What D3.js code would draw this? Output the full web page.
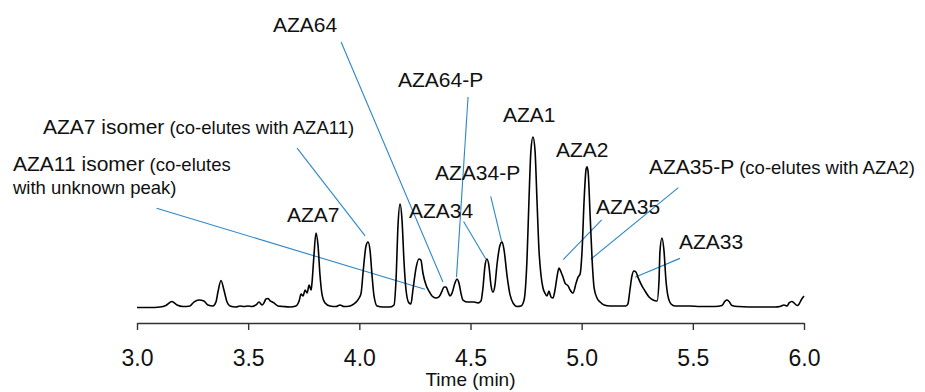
<!DOCTYPE html>
<html>
<head>
<meta charset="utf-8">
<script src="https://cdn.jsdelivr.net/npm/d3@7"></script>
<style>
  html, body { margin: 0; padding: 0; background: #fff; }
  svg { display: block; }
  text { font-family: "Liberation Sans", Arial, Helvetica, sans-serif; fill: #111; }
</style>
</head>
<body>
<svg id="chart" width="925" height="392"></svg>
<script>
// ---- data ----
const times = [3.000,3.058,3.103,3.130,3.157,3.180,3.207,3.238,3.256,3.279,3.301,3.319,3.342,3.355,3.364,3.378,3.391,3.405,3.418,3.445,
  3.463,3.481,3.499,3.517,3.535,3.549,3.562,3.571,3.580,3.589,3.598,3.616,3.634,3.657,3.688,3.715,3.729,3.738,3.747,3.756,
  3.765,3.774,3.783,3.787,3.796,3.805,3.814,3.823,3.832,3.846,3.868,3.895,3.913,3.931,3.958,3.976,3.990,3.999,4.008,4.017,
  4.030,4.039,4.048,4.057,4.066,4.080,4.107,4.138,4.156,4.165,4.174,4.183,4.192,4.201,4.210,4.223,4.232,4.241,4.255,4.268,
  4.277,4.286,4.300,4.313,4.327,4.345,4.358,4.372,4.381,4.390,4.399,4.408,4.417,4.430,4.439,4.448,4.457,4.466,4.489,4.516,
  4.534,4.547,4.556,4.565,4.574,4.583,4.592,4.601,4.610,4.619,4.633,4.642,4.651,4.664,4.678,4.691,4.709,4.727,4.741,4.754,
  4.763,4.772,4.781,4.790,4.799,4.808,4.817,4.826,4.835,4.844,4.853,4.862,4.871,4.880,4.889,4.898,4.907,4.916,4.925,4.939,
  4.948,4.961,4.975,4.984,4.993,5.002,5.011,5.020,5.024,5.029,5.038,5.047,5.056,5.069,5.083,5.101,5.128,5.172,5.199,5.208,
  5.217,5.226,5.235,5.244,5.253,5.267,5.285,5.303,5.321,5.339,5.348,5.352,5.361,5.370,5.379,5.388,5.402,5.420,5.487,5.532,
  5.600,5.631,5.645,5.654,5.663,5.676,5.703,5.802,5.870,5.892,5.910,5.924,5.933,5.946,5.955,5.969,5.978,5.987,6.000];
const intensity = [-0.3,-0.3,0,0.9,3.2,1.2,0.3,0.6,2.9,4.1,3.5,1.2,0.6,2.9,8.8,15.6,10.0,2.9,0.6,0,
  0.6,0.3,0.6,0.3,1.2,2.9,1.2,2.4,4.7,5.0,3.8,2.4,0.6,0.3,0,0.6,3.5,7.6,6.5,10.0,
  8.2,12.9,10.0,14.1,30.6,43.5,36.5,18.8,7.6,2.4,0.6,0.3,1.2,0.3,0.6,1.8,3.5,5.3,8.2,20.6,
  35.9,38.2,33.5,18.8,6.5,0.6,0,0,1.2,15.9,48.2,60.6,51.2,26.5,10.0,2.4,1.8,10.0,22.9,28.2,
  27.6,20.0,12.9,9.4,6.5,5.3,5.9,9.4,11.8,11.8,8.8,6.5,8.2,14.1,16.5,14.1,8.2,4.1,2.9,2.9,
  2.4,3.5,11.2,24.1,28.2,24.1,12.9,8.8,12.9,24.7,36.5,38.2,33.5,18.8,7.1,2.4,0.3,0.6,4.1,27.6,
  62.9,92.4,100.0,92.4,62.9,33.5,18.8,11.2,8.2,6.5,9.4,5.9,5.3,10.0,17.6,22.9,20.6,17.6,14.1,12.4,
  10.0,8.2,14.1,17.6,19.4,33.5,62.9,81.2,82.4,79.4,54.1,27.6,11.2,5.3,2.9,1.2,0.6,0.6,0.6,1.8,
  10.0,18.2,21.2,20.6,17.6,13.5,9.4,5.9,4.1,3.5,15.9,32.4,40.6,33.5,15.9,6.5,1.8,0.6,0.6,0.3,
  0.3,0.9,3.5,4.1,3.2,0.9,0.3,0,0,0.3,1.2,0.6,2.4,3.2,2.4,0.9,1.8,4.1,6.5];

const xTicks = [3.0, 3.5, 4.0, 4.5, 5.0, 5.5, 6.0];
const xTitle = "Time (min)";

// annotation texts: [main, small]
const annoMain  = ["AZA64", "AZA64-P", "AZA7 isomer", "AZA11 isomer", "AZA34", "AZA34-P", "AZA35", "AZA35-P", "AZA33", "AZA1", "AZA2", "AZA7"];
const annoSmall = ["", "", "(co-elutes with AZA11)", "(co-elutes", "", "", "", "(co-elutes with AZA2)", "", "", "", ""];
const annoSmall2 = ["", "", "", "with unknown peak)", "", "", "", "", "", "", "", ""];
// leader lines: from label (time, intensity) to peak (time, intensity)
const leaderFromT = [3.918, 4.489, 3.720, 3.088, 4.469, 4.591, 5.090, 5.435, 5.442];
const leaderFromI = [155.9, 123.5, 93.5, 58.1, 50.3, 65.1, 51.2, 70.2, 28.6];
const leaderToT   = [4.376, 4.437, 4.026, 4.295, 4.569, 4.640, 4.917, 5.041, 5.240];
const leaderToI   = [14.7, 17.6, 41.8, 10.4, 28.2, 38.4, 27.9, 28.1, 17.5];

// ---- layout ----
const svg = d3.select("#chart");
const x = d3.scaleLinear().domain([3, 6]).range([137, 804]);
const y = d3.scaleLinear().domain([0, 100]).range([307, 137]);
const axisY = 323;

// label anchor positions (pixels)
const labelPos = [
  [273, 32], [398, 87], [43, 134], [13, 171], [409, 218], [435, 180],
  [596, 214], [649, 174], [679, 249], [503, 122], [556, 157], [287, 222]
];

// leader lines
const leaderColor = "#2b87c8";
svg.append("g").selectAll("line").data(leaderFromT).join("line")
  .attr("x1", (d, i) => x(leaderFromT[i]))
  .attr("y1", (d, i) => y(leaderFromI[i]))
  .attr("x2", (d, i) => x(leaderToT[i]))
  .attr("y2", (d, i) => y(leaderToI[i]))
  .attr("stroke", leaderColor)
  .attr("stroke-width", 1.1);

// chromatogram trace
const pts = times.map((t, i) => [t, intensity[i]]);
svg.append("path")
  .datum(pts)
  .attr("fill", "none")
  .attr("stroke", "#000")
  .attr("stroke-width", 1.6)
  .attr("stroke-linejoin", "round")
  .attr("d", d3.line().x(d => x(d[0])).y(d => y(d[1])).curve(d3.curveMonotoneX));

// labels
const lg = svg.append("g");
annoMain.forEach((m, i) => {
  const [lx, ly] = labelPos[i];
  const t = lg.append("text").attr("x", lx).attr("y", ly);
  t.append("tspan").attr("font-size", 21).text(m);
  if (annoSmall[i]) {
    t.append("tspan").attr("font-size", 18.5).attr("dx", 5).text(annoSmall[i]);
  }
  if (annoSmall2[i]) {
    lg.append("text").attr("x", lx).attr("y", ly + 23).attr("font-size", 18.5).text(annoSmall2[i]);
  }
});

// x axis
const axis = d3.axisBottom(x).tickValues(xTicks).tickFormat(d3.format(".1f")).tickSizeInner(7).tickSizeOuter(0).tickPadding(14);
const ag = svg.append("g").attr("transform", `translate(0,${axisY})`).call(axis);
ag.select(".domain").attr("stroke", "#333").attr("stroke-width", 1.4);
ag.selectAll(".tick line").attr("stroke", "#333").attr("stroke-width", 1.4);
ag.selectAll(".tick text").attr("font-size", 23).attr("fill", "#111")
  .attr("font-family", "'Liberation Sans', Arial, sans-serif").attr("dy", 0).attr("y", 43);

svg.append("text").attr("x", x(4.5)).attr("y", 386).attr("text-anchor", "middle")
  .attr("font-size", 19).text(xTitle);
</script>
</body>
</html>
